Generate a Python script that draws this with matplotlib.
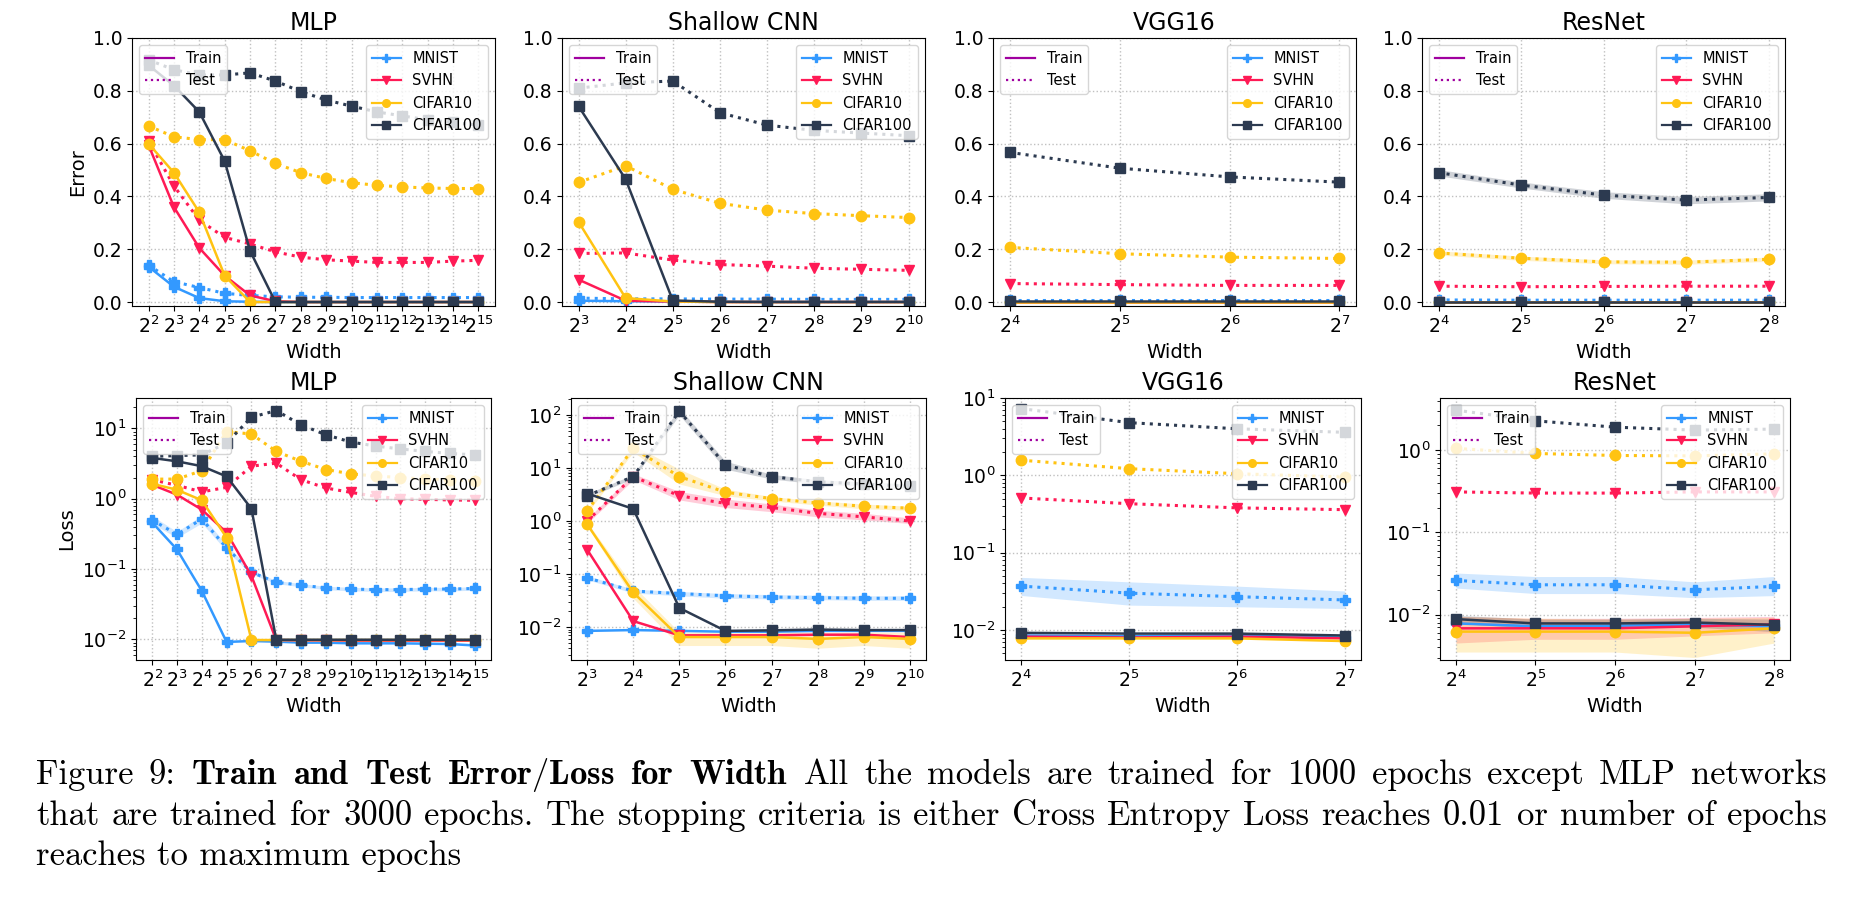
import numpy as np
import matplotlib.pyplot as plt
from matplotlib.lines import Line2D
from matplotlib.ticker import NullLocator

datasets = ['MNIST', 'SVHN', 'CIFAR10', 'CIFAR100']
colors = {'MNIST': '#3399FF', 'SVHN': '#FF1A55', 'CIFAR10': '#FFC312', 'CIFAR100': '#2C3A50'}
markers = {'MNIST': 'P', 'SVHN': 'v', 'CIFAR10': 'o', 'CIFAR100': 's'}
split_color = '#A0009F'

mlp_widths = [4, 8, 16, 32, 64, 128, 256, 512, 1024, 2048, 4096, 8192, 16384, 32768]
cnn_widths = [8, 16, 32, 64, 128, 256, 512, 1024]
vgg_widths = [16, 32, 64, 128]
resnet_widths = [16, 32, 64, 128, 256]

# ---- error ----
mlp_err_train = {
    'MNIST': [0.134, 0.058, 0.015, 0.003, 0.001, 0, 0, 0, 0, 0, 0, 0, 0, 0],
    'SVHN': [0.595, 0.36, 0.205, 0.10, 0.025, 0.003, 0, 0, 0, 0, 0, 0, 0, 0],
    'CIFAR10': [0.60, 0.49, 0.34, 0.10, 0.0, 0, 0, 0, 0, 0, 0, 0, 0, 0],
    'CIFAR100': [0.897, 0.82, 0.72, 0.534, 0.194, 0.0, 0, 0, 0, 0, 0, 0, 0, 0],
}
mlp_err_test = {
    'MNIST': [0.14, 0.077, 0.055, 0.033, 0.025, 0.02, 0.018, 0.018, 0.017, 0.017, 0.017, 0.017, 0.017, 0.017],
    'SVHN': [0.61, 0.44, 0.31, 0.245, 0.22, 0.19, 0.17, 0.16, 0.155, 0.15, 0.15, 0.15, 0.155, 0.158],
    'CIFAR10': [0.667, 0.626, 0.615, 0.615, 0.573, 0.525, 0.49, 0.468, 0.452, 0.442, 0.436, 0.432, 0.43, 0.43],
    'CIFAR100': [0.917, 0.88, 0.86, 0.86, 0.868, 0.837, 0.797, 0.765, 0.742, 0.72, 0.705, 0.69, 0.68, 0.67],
}
cnn_err_train = {
    'MNIST': [0.005, 0.003, 0.002, 0.001, 0.001, 0.001, 0.001, 0.001],
    'SVHN': [0.085, 0.005, 0.002, 0, 0, 0, 0, 0],
    'CIFAR10': [0.304, 0.015, 0.002, 0, 0, 0, 0, 0],
    'CIFAR100': [0.742, 0.465, 0.006, 0.001, 0, 0, 0, 0],
}
cnn_err_test = {
    'MNIST': [0.015, 0.012, 0.012, 0.011, 0.011, 0.01, 0.01, 0.01],
    'SVHN': [0.184, 0.186, 0.159, 0.142, 0.136, 0.128, 0.124, 0.12],
    'CIFAR10': [0.453, 0.516, 0.427, 0.374, 0.348, 0.335, 0.327, 0.32],
    'CIFAR100': [0.81, 0.83, 0.837, 0.717, 0.67, 0.65, 0.64, 0.63],
}
vgg_err_train = {
    'MNIST': [0.001, 0.001, 0.001, 0.001],
    'SVHN': [0.001, 0.001, 0.001, 0.001],
    'CIFAR10': [0.002, 0.002, 0.002, 0.002],
    'CIFAR100': [0.003, 0.003, 0.003, 0.003],
}
vgg_err_test = {
    'MNIST': [0.008, 0.008, 0.008, 0.008],
    'SVHN': [0.07, 0.066, 0.063, 0.063],
    'CIFAR10': [0.207, 0.183, 0.17, 0.165],
    'CIFAR100': [0.567, 0.507, 0.474, 0.454],
}
resnet_err_train = {
    'MNIST': [0.002, 0.002, 0.002, 0.002, 0.002],
    'SVHN': [0.002, 0.002, 0.002, 0.002, 0.002],
    'CIFAR10': [0.002, 0.002, 0.002, 0.002, 0.002],
    'CIFAR100': [0.002, 0.002, 0.002, 0.002, 0.002],
}
resnet_err_test = {
    'MNIST': [0.008, 0.007, 0.007, 0.007, 0.007],
    'SVHN': [0.06, 0.058, 0.059, 0.06, 0.06],
    'CIFAR10': [0.186, 0.166, 0.152, 0.151, 0.162],
    'CIFAR100': [0.49, 0.443, 0.405, 0.386, 0.396],
}

# ---- loss ----
mlp_loss_train = {
    'MNIST': [0.46, 0.19, 0.049, 0.0092, 0.0095, 0.0093, 0.009, 0.009, 0.0088, 0.0088, 0.0088, 0.0087, 0.0086, 0.0082],
    'SVHN': [1.58, 1.14, 0.70, 0.33, 0.08, 0.0098, 0.0097, 0.0097, 0.0096, 0.0096, 0.0096, 0.0096, 0.0096, 0.0096],
    'CIFAR10': [1.63, 1.34, 0.95, 0.28, 0.0098, 0.0098, 0.0098, 0.0098, 0.0098, 0.0098, 0.0098, 0.0098, 0.0098, 0.0098],
    'CIFAR100': [3.8, 3.4, 2.9, 2.07, 0.72, 0.0099, 0.0099, 0.0099, 0.0099, 0.0099, 0.0099, 0.0099, 0.0099, 0.0099],
}
mlp_loss_test = {
    'MNIST': [0.50, 0.31, 0.515, 0.20, 0.09, 0.065, 0.059, 0.054, 0.052, 0.051, 0.051, 0.052, 0.052, 0.053],
    'SVHN': [1.86, 1.55, 1.25, 1.45, 2.9, 3.2, 1.86, 1.42, 1.23, 1.08, 1.0, 0.98, 0.96, 0.95],
    'CIFAR10': [1.9, 1.9, 2.5, 9.0, 8.3, 4.7, 3.4, 2.6, 2.26, 2.1, 2.0, 1.9, 1.85, 1.8],
    'CIFAR100': [4.0, 4.1, 4.2, 6.2, 14.4, 17.9, 11.2, 8.1, 6.4, 5.6, 5.1, 4.7, 4.4, 4.2],
}
cnn_loss_train = {
    'MNIST': [0.0085, 0.0088, 0.0085, 0.0082, 0.0082, 0.0085, 0.0085, 0.0085],
    'SVHN': [0.29, 0.013, 0.007, 0.007, 0.007, 0.0072, 0.0072, 0.0065],
    'CIFAR10': [0.87, 0.045, 0.0065, 0.0065, 0.0065, 0.006, 0.0065, 0.006],
    'CIFAR100': [3.3, 1.7, 0.023, 0.0085, 0.0087, 0.009, 0.0088, 0.0088],
}
cnn_loss_test = {
    'MNIST': [0.085, 0.048, 0.043, 0.039, 0.037, 0.036, 0.035, 0.035],
    'SVHN': [1.0, 6.9, 3.0, 2.15, 1.8, 1.4, 1.2, 1.0],
    'CIFAR10': [1.55, 23.5, 6.9, 3.5, 2.65, 2.2, 1.9, 1.75],
    'CIFAR100': [3.0, 6.9, 118, 11.4, 6.9, 5.5, 5.0, 4.5],
}
vgg_loss_train = {
    'MNIST': [0.0085, 0.0083, 0.0085, 0.008],
    'SVHN': [0.0082, 0.008, 0.0082, 0.0078],
    'CIFAR10': [0.0078, 0.0078, 0.0078, 0.0072],
    'CIFAR100': [0.0092, 0.009, 0.009, 0.0085],
}
vgg_loss_test = {
    'MNIST': [0.037, 0.030, 0.027, 0.0245],
    'SVHN': [0.51, 0.43, 0.38, 0.36],
    'CIFAR10': [1.57, 1.22, 1.05, 0.95],
    'CIFAR100': [7.3, 4.8, 4.0, 3.6],
}
resnet_loss_train = {
    'MNIST': [0.0078, 0.0072, 0.0073, 0.0076, 0.0072],
    'SVHN': [0.0068, 0.0068, 0.0068, 0.0072, 0.0076],
    'CIFAR10': [0.0062, 0.0062, 0.0062, 0.006, 0.0068],
    'CIFAR100': [0.0088, 0.0078, 0.0078, 0.008, 0.0075],
}
resnet_loss_test = {
    'MNIST': [0.026, 0.023, 0.023, 0.020, 0.022],
    'SVHN': [0.31, 0.30, 0.30, 0.31, 0.31],
    'CIFAR10': [1.05, 0.91, 0.86, 0.85, 0.9],
    'CIFAR100': [3.06, 2.27, 1.9, 1.75, 1.8],
}

# ---- shaded spread (lower, upper) ----
resnet_err_cifar100_test_band = ([0.478, 0.432, 0.393, 0.372, 0.383], [0.502, 0.455, 0.418, 0.40, 0.41])
resnet_err_cifar10_test_band = ([0.178, 0.158, 0.145, 0.143, 0.154], [0.194, 0.174, 0.16, 0.159, 0.17])
mlp_loss_mnist_test_band = ([0.44, 0.28, 0.45, 0.18, 0.085, 0.062, 0.056, 0.051, 0.049, 0.048, 0.048, 0.049, 0.049, 0.05],
                            [0.57, 0.34, 0.58, 0.22, 0.095, 0.069, 0.062, 0.057, 0.055, 0.054, 0.054, 0.055, 0.055, 0.056])
cnn_loss_mnist_test_band = ([0.078, 0.044, 0.039, 0.035, 0.034, 0.033, 0.032, 0.032],
                            [0.093, 0.052, 0.047, 0.043, 0.041, 0.04, 0.039, 0.039])
cnn_loss_svhn_test_band = ([0.9, 6.0, 2.5, 1.8, 1.5, 1.2, 1.05, 0.9], [1.1, 7.8, 3.6, 2.6, 2.1, 1.6, 1.4, 1.15])
cnn_loss_cifar10_test_band = ([1.4, 20, 5.0, 3.0, 2.4, 2.0, 1.7, 1.6], [1.7, 27, 9.5, 4.0, 2.9, 2.4, 2.1, 1.9])
cnn_loss_cifar100_test_band = ([2.8, 6.3, 100, 9.5, 6.2, 5.0, 4.5, 4.0], [3.3, 7.5, 135, 13.5, 7.6, 6.0, 5.5, 5.0])
cnn_loss_cifar10_train_band = ([0.8, 0.035, 0.0045, 0.0045, 0.0045, 0.004, 0.0045, 0.004],
                               [0.95, 0.06, 0.008, 0.008, 0.008, 0.008, 0.008, 0.008])
vgg_loss_mnist_test_band = ([0.028, 0.021, 0.02, 0.019], [0.048, 0.042, 0.037, 0.032])
resnet_loss_mnist_test_band = ([0.021, 0.018, 0.018, 0.016, 0.017], [0.032, 0.029, 0.029, 0.025, 0.029])
resnet_loss_cifar10_train_band = ([0.0035, 0.0035, 0.0035, 0.003, 0.0045], [0.0095, 0.009, 0.0088, 0.009, 0.0092])
resnet_loss_svhn_train_band = ([0.0045, 0.005, 0.005, 0.0055, 0.006], [0.0095, 0.009, 0.009, 0.0092, 0.0095])
resnet_loss_cifar100_train_band = ([0.0078, 0.0068, 0.0068, 0.007, 0.0062], [0.0098, 0.0088, 0.0088, 0.009, 0.0088])

caption_lines = [
    'Figure 9: $\\mathbf{Train}$ $\\mathbf{and}$ $\\mathbf{Test}$ $\\mathbf{Error/Loss}$ $\\mathbf{for}$ '
    '$\\mathbf{Width}$ All the models are trained for 1000 epochs except MLP networks',
    'that are trained for 3000 epochs. The stopping criteria is either Cross Entropy Loss reaches 0.01 or number of epochs',
    'reaches to maximum epochs',
]

W, H = 1857, 897
fig = plt.figure(figsize=(W / 100, H / 100), dpi=100)


def px_axes(left, top, width, height):
    return fig.add_axes([left / W, 1 - (top + height) / H, width / W, height / H])


def draw_panel(ax, title, widths, train, test, bands, log, ylim):
    for name in datasets:
        c, m = colors[name], markers[name]
        for split, vals, ls, lw in (('train', train[name], '-', 1.8), ('test', test[name], ':', 2.2)):
            band = bands.get((name, split))
            if band is not None:
                ax.fill_between(widths, band[0], band[1], color=c, alpha=0.22, lw=0)
            ax.plot(widths, vals, ls=ls, lw=lw, color=c, marker=m, ms=7.5)
    ax.set_xscale('log', base=2)
    ax.set_xticks(widths, labels=[r'$2^{%d}$' % round(np.log2(w)) for w in widths])
    ax.xaxis.set_minor_locator(NullLocator())
    if log:
        ax.set_yscale('log')
    ax.set_ylim(*ylim)
    ax.grid(True, which='major', ls=':', color='#c0c0c0', lw=1.0)
    ax.tick_params(labelsize=13.5)
    ax.set_title(title, fontsize=17)
    ax.set_xlabel('Width', fontsize=14)

    split_handles = [Line2D([], [], color=split_color, lw=1.6, ls='-', label='Train'),
                     Line2D([], [], color=split_color, lw=1.6, ls=':', label='Test')]
    leg = ax.legend(handles=split_handles, loc='upper left', fontsize=10.5)
    ax.add_artist(leg)
    data_handles = [Line2D([], [], color=colors[n], marker=markers[n], ms=5.5, lw=1.6, label=n)
                    for n in datasets]
    ax.legend(handles=data_handles, loc='upper right', fontsize=10.5)


err_lim = (-0.015, 1.0)
top_left = [132, 562, 993, 1422]
bot_left = [136, 571, 1005, 1440]

ax = px_axes(top_left[0], 38, 363, 268)
draw_panel(ax, 'MLP', mlp_widths, mlp_err_train, mlp_err_test, {}, False, err_lim)
ax.set_ylabel('Error', fontsize=14)

ax = px_axes(top_left[1], 38, 363, 268)
draw_panel(ax, 'Shallow CNN', cnn_widths, cnn_err_train, cnn_err_test, {}, False, err_lim)

ax = px_axes(top_left[2], 38, 363, 268)
draw_panel(ax, 'VGG16', vgg_widths, vgg_err_train, vgg_err_test, {}, False, err_lim)

ax = px_axes(top_left[3], 38, 363, 268)
draw_panel(ax, 'ResNet', resnet_widths, resnet_err_train, resnet_err_test,
           {('CIFAR100', 'test'): resnet_err_cifar100_test_band,
            ('CIFAR10', 'test'): resnet_err_cifar10_test_band}, False, err_lim)

ax = px_axes(bot_left[0], 398, 355, 262)
draw_panel(ax, 'MLP', mlp_widths, mlp_loss_train, mlp_loss_test,
           {('MNIST', 'test'): mlp_loss_mnist_test_band}, True, (0.0051, 27))
ax.set_ylabel('Loss', fontsize=14)

ax = px_axes(bot_left[1], 398, 355, 262)
draw_panel(ax, 'Shallow CNN', cnn_widths, cnn_loss_train, cnn_loss_test,
           {('MNIST', 'test'): cnn_loss_mnist_test_band,
            ('SVHN', 'test'): cnn_loss_svhn_test_band,
            ('CIFAR10', 'test'): cnn_loss_cifar10_test_band,
            ('CIFAR100', 'test'): cnn_loss_cifar100_test_band,
            ('CIFAR10', 'train'): cnn_loss_cifar10_train_band}, True, (0.0024, 209))

ax = px_axes(bot_left[2], 398, 356, 262)
draw_panel(ax, 'VGG16', vgg_widths, vgg_loss_train, vgg_loss_test,
           {('MNIST', 'test'): vgg_loss_mnist_test_band}, True, (0.0041, 10))

ax = px_axes(bot_left[3], 398, 350, 262)
draw_panel(ax, 'ResNet', resnet_widths, resnet_loss_train, resnet_loss_test,
           {('MNIST', 'test'): resnet_loss_mnist_test_band,
            ('CIFAR10', 'train'): resnet_loss_cifar10_train_band,
            ('SVHN', 'train'): resnet_loss_svhn_train_band,
            ('CIFAR100', 'train'): resnet_loss_cifar100_train_band}, True, (0.0028, 4.3))

# caption: first two lines justified between x0 and x1 like the LaTeX paragraph
renderer = fig.canvas.get_renderer()
cap_kw = dict(family='cmr10', math_fontfamily='cm', fontsize=24.9, va='baseline', ha='left')
x0, x1 = 36, 1827
for i, line in enumerate(caption_lines):
    y = 1 - (784 + 40.5 * i) / H
    if i == len(caption_lines) - 1:
        fig.text(x0 / W, y, line, **cap_kw)
        continue
    words = line.split(' ')
    texts = [fig.text(0, y, w, **cap_kw) for w in words]
    ws = [t.get_window_extent(renderer).width for t in texts]
    gap = (x1 - x0 - sum(ws)) / (len(words) - 1)
    x = x0
    for t, w in zip(texts, ws):
        t.set_x(x / W)
        x += w + gap

fig.savefig('out.png', dpi=100)
